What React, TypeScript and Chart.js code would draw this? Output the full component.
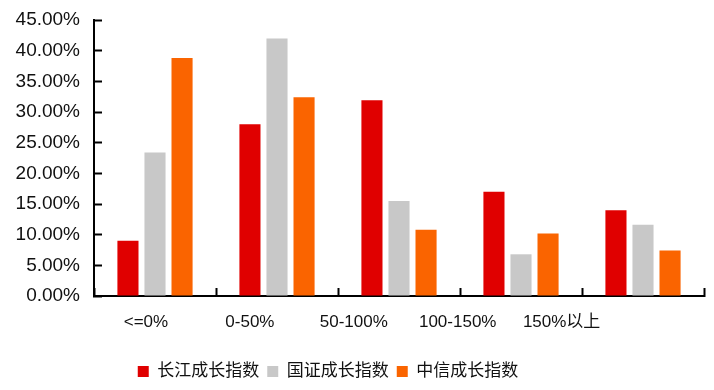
import React, { useEffect, useRef } from "react";
import { Chart, registerables } from "chart.js";

Chart.register(...registerables);

const categories = ["<=0%", "0-50%", "50-100%", "100-150%", "150%以上"];
const seriesNames = ["长江成长指数", "国证成长指数", "中信成长指数"];
const changjiang = [9.0, 28.0, 31.9, 17.0, 14.0];
const guozheng = [23.4, 42.0, 15.5, 6.8, 11.6];
const zhongxin = [38.8, 32.4, 10.8, 10.2, 7.4];
const seriesColors = ["#E00000", "#C8C8C8", "#FA6400"];
const yTicks = [0, 5, 10, 15, 20, 25, 30, 35, 40, 45];

const FONT = "'Liberation Sans', Arial, 'Noto Sans CJK SC', sans-serif";

const legendShift = {
  id: "legendShift",
  afterLayout(chart: any) {
    if (chart.legend) {
      chart.legend.right = chart.legend.right - 48;
    }
  },
};

export default function App() {
  const ref = useRef<HTMLCanvasElement | null>(null);
  useEffect(() => {
    if (!ref.current) return;
    const data = [changjiang, guozheng, zhongxin];
    const chart = new Chart(ref.current, {
      type: "bar",
      data: {
        labels: categories,
        datasets: seriesNames.map((name, i) => ({
          label: name,
          data: data[i],
          backgroundColor: seriesColors[i],
          borderWidth: 0,
          categoryPercentage: 0.665,
          barPercentage: 0.78,
        })),
      },
      options: {
        animation: false,
        responsive: true,
        maintainAspectRatio: false,
        layout: { padding: { left: 0, right: 10, top: 20, bottom: 0 } },
        plugins: {
          tooltip: { enabled: false },
          legend: {
            position: "bottom",
            labels: {
              boxWidth: 11,
              boxHeight: 11,
              padding: 8,
              color: "#111",
              font: { family: FONT, size: 17 },
            },
          },
        },
        scales: {
          x: {
            type: "category",
            grid: {
              display: true,
              drawOnChartArea: false,
              drawTicks: true,
              tickLength: -8,
              tickColor: "#000",
              tickWidth: 2,
            },
            border: { display: true, color: "#000", width: 2 },
            ticks: { display: false },
            afterFit(scale: any) {
              scale.height = 0;
            },
          },
          x2: {
            type: "linear",
            position: "bottom",
            offset: false,
            bounds: "data",
            min: -0.5,
            max: 5.37,
            grid: { display: false, offset: false },
            border: { display: false },
            afterBuildTicks(scale: any) {
              scale.ticks = categories.map((_, i) => ({ value: i }));
            },
            ticks: {
              autoSkip: false,
              maxRotation: 0,
              padding: 8,
              color: "#111",
              font: { family: FONT, size: 17 },
              callback: (v: any) => categories[Number(v)] ?? "",
            },
            afterFit(scale: any) {
              scale.height = 59;
              scale.paddingLeft = 0;
              scale.paddingRight = 0;
            },
          },
          y: {
            min: 0,
            max: 45,
            afterBuildTicks(scale: any) {
              scale.ticks = yTicks.map((v) => ({ value: v }));
            },
            grid: {
              display: true,
              drawOnChartArea: false,
              drawTicks: true,
              tickLength: -8,
              tickColor: "#000",
              tickWidth: 2,
            },
            border: { display: true, color: "#000", width: 2 },
            ticks: {
              padding: 22,
              color: "#111",
              font: { family: FONT, size: 19 },
              callback: (v: any) => Number(v).toFixed(2) + "%",
            },
            afterFit(scale: any) {
              scale.width = 94;
              scale.paddingTop = 0;
              scale.paddingBottom = 0;
            },
          },
        },
      },
      plugins: [legendShift],
    });
    return () => chart.destroy();
  }, []);
  return (
    <div style={{ position: "fixed", left: 0, top: 0, width: 714, height: 390, background: "#fff" }}>
      <canvas ref={ref} />
    </div>
  );
}
